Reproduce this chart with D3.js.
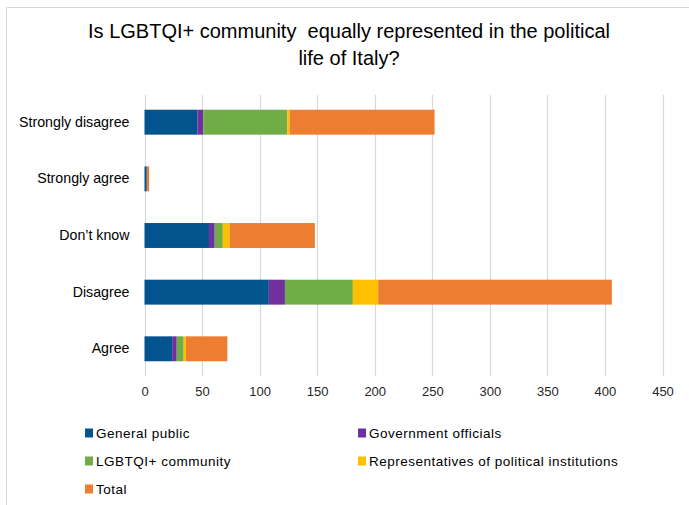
<!DOCTYPE html>
<html>
<head>
<meta charset="utf-8">
<script src="https://cdn.jsdelivr.net/npm/d3@7"></script>
<style>
  html, body { margin: 0; padding: 0; background: #fff; }
  svg { display: block; }
  text { font-family: "Liberation Sans", Arial, sans-serif; }
</style>
</head>
<body>
<svg id="chart" width="689" height="505"></svg>
<script>
// Response categories, drawn top to bottom
const categories = ["Strongly disagree", "Strongly agree", "Don\u2019t know", "Disagree", "Agree"];

// Respondent groups (stacked in this order)
const seriesNames = ["General public", "Government officials", "LGBTQI+ community",
                     "Representatives of political institutions", "Total"];

// Counts per category, same order as `categories`
const generalPublic   = [46, 2, 56, 108, 24];
const governmentOff   = [5, 0, 5, 14, 4];
const lgbtqiCommunity = [73, 0, 7, 59, 6];
const representatives = [2, 0, 6, 22, 2];
const total           = [126, 2, 74, 203, 36];

const xTicks = [0, 50, 100, 150, 200, 250, 300, 350, 400, 450];

const colors = ["#02548f", "#7030a0", "#70ad47", "#ffc000", "#ed7d31"];

const rows = categories.map((c, i) => ({
  category: c,
  "General public": generalPublic[i],
  "Government officials": governmentOff[i],
  "LGBTQI+ community": lgbtqiCommunity[i],
  "Representatives of political institutions": representatives[i],
  "Total": total[i]
}));

const svg = d3.select("#chart");

// outer chart frame
svg.append("line").attr("x1", 6.5).attr("x2", 6.5).attr("y1", 7.5).attr("y2", 505)
  .attr("stroke", "#d9d9d9").attr("stroke-width", 1);
svg.append("line").attr("x1", 6.5).attr("x2", 689).attr("y1", 7.5).attr("y2", 7.5)
  .attr("stroke", "#d9d9d9").attr("stroke-width", 1);

// title
const title = svg.append("text")
  .attr("text-anchor", "middle")
  .attr("font-size", 20)
  .attr("fill", "#000");
title.append("tspan").attr("x", 349).attr("y", 38).text("Is LGBTQI+ community\u00a0 equally represented in the political");
title.append("tspan").attr("x", 349).attr("y", 65).text("life of Italy?");

const plot = { left: 144.5, right: 662.5, top: 95, bottom: 376 };

const x = d3.scaleLinear().domain([0, 450]).range([plot.left, plot.right]);
const y = d3.scaleBand().domain(categories).range([plot.top, plot.bottom]).paddingInner(0.56).paddingOuter(0.26);

// vertical gridlines
svg.append("g")
  .selectAll("line")
  .data(xTicks)
  .join("line")
  .attr("x1", d => Math.round(x(d)) + 0.5)
  .attr("x2", d => Math.round(x(d)) + 0.5)
  .attr("y1", plot.top)
  .attr("y2", plot.bottom)
  .attr("stroke", "#d9d9d9")
  .attr("stroke-width", 1.2);

// stacked bars
const stack = d3.stack().keys(seriesNames);
const layers = stack(rows);

svg.append("g")
  .selectAll("g")
  .data(layers)
  .join("g")
  .attr("fill", (d, i) => colors[i])
  .selectAll("rect")
  .data(d => d)
  .join("rect")
  .attr("x", d => x(d[0]))
  .attr("y", d => y(d.data.category))
  .attr("width", d => Math.max(0, x(d[1]) - x(d[0])))
  .attr("height", y.bandwidth());

// x axis tick labels
const xAxis = d3.axisBottom(x).tickValues(xTicks).tickSize(0).tickPadding(0);
const gx = svg.append("g").attr("transform", `translate(0,${plot.bottom + 11})`).call(xAxis);
gx.select(".domain").remove();
gx.selectAll("text").attr("font-size", 13).attr("fill", "#262626")
  .attr("font-family", "Liberation Sans, Arial, sans-serif");

// y axis category labels
const yAxis = d3.axisLeft(y).tickSize(0).tickPadding(15);
const gy = svg.append("g").attr("transform", `translate(${plot.left},0)`).call(yAxis);
gy.select(".domain").remove();
gy.selectAll("text").attr("font-size", 14.2).attr("fill", "#000")
  .attr("font-family", "Liberation Sans, Arial, sans-serif");

// legend
const legendPos = [[85, 433], [358, 433], [85, 461], [358, 461], [85, 489]];
const legend = svg.append("g")
  .selectAll("g")
  .data(seriesNames)
  .join("g")
  .attr("transform", (d, i) => `translate(${legendPos[i][0]},${legendPos[i][1]})`);
legend.append("rect").attr("x", 0).attr("y", -4.5).attr("width", 8).attr("height", 9)
  .attr("fill", (d, i) => colors[i]);
legend.append("text").attr("x", 11).attr("y", 0).attr("dy", "0.35em")
  .attr("font-size", 13.5).attr("letter-spacing", 0.5).attr("fill", "#000").text(d => d);
</script>
</body>
</html>
